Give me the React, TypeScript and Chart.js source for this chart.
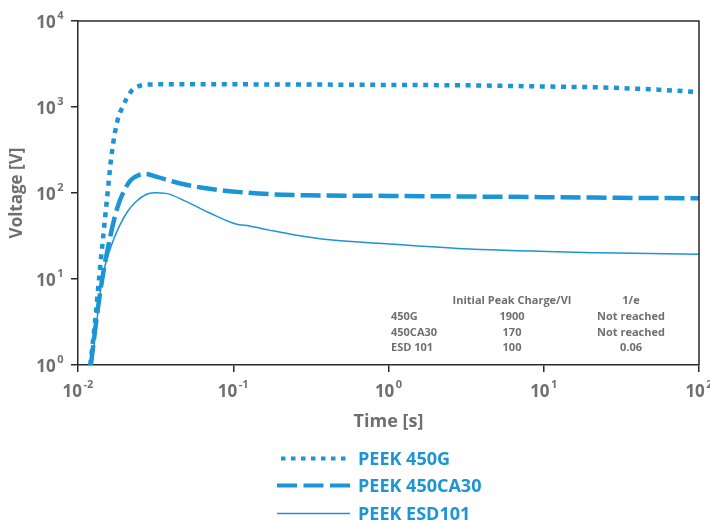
import React, { useEffect, useRef } from "react";
import { Chart, registerables } from "chart.js";

Chart.register(...registerables);

// ---- data ----
const seriesNames = ["PEEK 450G", "PEEK 450CA30", "PEEK ESD101"];

const t450G = [0.012, 0.0129, 0.0137, 0.0146, 0.0155, 0.0165, 0.018, 0.0194, 0.0219, 0.0254, 0.03, 0.05, 0.1, 0.3, 1, 3.3, 10, 22.9, 47.9, 100];
const v450G = [1, 3.3, 10.6, 34, 99, 290, 706, 1008, 1506, 1780, 1830, 1840, 1835, 1825, 1805, 1785, 1730, 1690, 1607, 1494];

const t450CA30 = [0.0121, 0.0134, 0.0144, 0.0163, 0.018, 0.0199, 0.0219, 0.0248, 0.0274, 0.0318, 0.0449, 0.0634, 0.0946, 0.171, 0.3, 1, 3.33, 10, 30, 100];
const v450CA30 = [1, 4.4, 10.6, 34, 69, 108, 142, 162, 166, 155, 130, 115, 105, 97, 94, 92.5, 91, 89.5, 88, 86.7];

const tESD101 = [0.0123, 0.0134, 0.0144, 0.0163, 0.0184, 0.0208, 0.0236, 0.0274, 0.031, 0.0368, 0.0495, 0.07, 0.104, 0.127, 0.171, 0.25, 0.417, 1.02, 3.33, 22.9, 100];
const vESD101 = [1, 4, 10.6, 23.7, 40.6, 60.6, 79, 96, 100.5, 99, 80, 59, 43.6, 41.3, 37, 32.5, 28.6, 25.5, 22.3, 20.2, 19.4];

const xTickExps = [-2, -1, 0, 1, 2];
const yTickExps = [0, 1, 2, 3, 4];

const xTitle = "Time [s]";
const yTitle = "Voltage [V]";

const tableHeader = ["", "Initial Peak Charge/VI", "1/e"];
const tableRowNames = ["450G", "450CA30", "ESD 101"];
const tablePeaks = ["1900", "170", "100"];
const tableDecay = ["Not reached", "Not reached", "0.06"];

// ---- styles ----
const BLUE = "#1b95d5";
const GRAY = "#6f6f73";
const AXIS = "#2a2a2a";
const FONT = "'Open Sans', 'DejaVu Sans', sans-serif";

const toPts = (ts: number[], vs: number[]) => ts.map((t, i) => ({ x: t, y: vs[i] }));

const decorPlugin = {
  id: "decor",
  afterDraw(chart: any) {
    const { ctx, chartArea: a, scales } = chart;
    const xs = scales.x;
    const ys = scales.y;
    ctx.save();
    // frame top & right
    ctx.strokeStyle = AXIS;
    ctx.lineWidth = 1.5;
    ctx.beginPath();
    ctx.moveTo(a.left, a.top);
    ctx.lineTo(a.right, a.top);
    ctx.lineTo(a.right, a.bottom);
    ctx.stroke();

    // tick labels
    ctx.fillStyle = GRAY;
    const big = `bold 17px ${FONT}`;
    const small = `bold 11px ${FONT}`;
    ctx.textBaseline = "alphabetic";
    xTickExps.forEach((e) => {
      const px = xs.getPixelForValue(Math.pow(10, e));
      const es = String(e);
      ctx.font = big;
      const w1 = ctx.measureText("10").width;
      ctx.font = small;
      const w2 = ctx.measureText(es).width;
      const total = w1 + 1.5 + w2;
      const x0 = px - total / 2;
      ctx.font = big;
      ctx.textAlign = "left";
      ctx.fillText("10", x0, a.bottom + 32);
      ctx.font = small;
      ctx.fillText(es, x0 + w1 + 1.5, a.bottom + 22.5);
    });
    yTickExps.forEach((e) => {
      const py = ys.getPixelForValue(Math.pow(10, e));
      const es = String(e);
      ctx.font = small;
      const w2 = ctx.measureText(es).width;
      const xr = a.left - 14.5;
      ctx.textAlign = "left";
      ctx.fillText(es, xr - w2, py - 2);
      ctx.font = big;
      ctx.textAlign = "right";
      ctx.fillText("10", xr - w2 - 1.5, py + 7);
    });

    // axis titles
    ctx.font = `bold 18px ${FONT}`;
    ctx.textAlign = "center";
    ctx.fillText(xTitle, (a.left + a.right) / 2, 426.5);
    ctx.save();
    ctx.translate(21.5, (a.top + a.bottom) / 2);
    ctx.rotate(-Math.PI / 2);
    ctx.font = `bold 17px ${FONT}`;
    ctx.fillText(yTitle, 0, 0);
    ctx.restore();

    // table
    ctx.font = `bold 11px ${FONT}`;
    ctx.fillStyle = GRAY;
    const col1 = 391;
    const col2 = 512;
    const col3 = 631;
    const rowY = [303.5, 319.5, 335.5, 351];
    ctx.textAlign = "center";
    ctx.fillText(tableHeader[1], col2, rowY[0]);
    ctx.fillText(tableHeader[2], col3, rowY[0]);
    tableRowNames.forEach((n, i) => {
      ctx.textAlign = "left";
      ctx.fillText(n, col1, rowY[i + 1]);
      ctx.textAlign = "center";
      ctx.fillText(tablePeaks[i], col2, rowY[i + 1]);
      ctx.fillText(tableDecay[i], col3, rowY[i + 1]);
    });

    // legend
    const legY = [458.5, 485.5, 513.5];
    chart.data.datasets.forEach((ds: any, i: number) => {
      const y = legY[i];
      ctx.save();
      ctx.strokeStyle = ds.borderColor;
      ctx.lineWidth = i === 2 ? 1.6 : 4.2;
      ctx.setLineDash(i === 0 ? [4.5, 5.5] : i === 1 ? [20, 6.5] : []);
      ctx.beginPath();
      ctx.moveTo(i === 0 ? 281 : 277, y);
      ctx.lineTo(350, y);
      ctx.stroke();
      ctx.restore();
      ctx.font = `bold 18px ${FONT}`;
      ctx.fillStyle = BLUE;
      ctx.textAlign = "left";
      ctx.fillText(ds.label, 358, y + 6.5);
    });
    ctx.restore();
  },
};

export default function App() {
  const ref = useRef<HTMLCanvasElement | null>(null);
  useEffect(() => {
    if (!ref.current) return;
    const chart = new Chart(ref.current, {
      type: "line",
      data: {
        datasets: [
          {
            label: seriesNames[0],
            data: toPts(t450G, v450G),
            borderColor: BLUE,
            borderWidth: 4.5,
            borderDash: [5, 5.6],
            pointRadius: 0,
            fill: false,
            cubicInterpolationMode: "monotone",
          },
          {
            label: seriesNames[1],
            data: toPts(t450CA30, v450CA30),
            borderColor: BLUE,
            borderWidth: 4.5,
            borderDash: [20, 6],
            pointRadius: 0,
            fill: false,
            cubicInterpolationMode: "monotone",
          },
          {
            label: seriesNames[2],
            data: toPts(tESD101, vESD101),
            borderColor: BLUE,
            borderWidth: 1.5,
            pointRadius: 0,
            fill: false,
            cubicInterpolationMode: "monotone",
          },
        ],
      },
      options: {
        responsive: false,
        animation: false,
        parsing: false,
        layout: { padding: { left: 0, right: 11, top: 21, bottom: 0 } },
        plugins: { legend: { display: false }, tooltip: { enabled: false } },
        scales: {
          x: {
            type: "logarithmic",
            min: Math.pow(10, xTickExps[0]),
            max: Math.pow(10, xTickExps[xTickExps.length - 1]),
            afterBuildTicks: (s: any) => {
              s.ticks = xTickExps.map((e) => ({ value: Math.pow(10, e) }));
            },
            afterFit: (s: any) => {
              s.height = 156;
            },
            ticks: { display: false },
            grid: { drawOnChartArea: false, drawTicks: true, tickLength: 7, color: AXIS, lineWidth: 1.5 },
            border: { display: true, color: AXIS, width: 1.5 },
          },
          y: {
            type: "logarithmic",
            min: Math.pow(10, yTickExps[0]),
            max: Math.pow(10, yTickExps[yTickExps.length - 1]),
            afterBuildTicks: (s: any) => {
              s.ticks = yTickExps.map((e) => ({ value: Math.pow(10, e) }));
            },
            afterFit: (s: any) => {
              s.width = 78;
            },
            ticks: { display: false },
            grid: { drawOnChartArea: false, drawTicks: true, tickLength: 7, color: AXIS, lineWidth: 1.5 },
            border: { display: true, color: AXIS, width: 1.5 },
          },
        },
      },
      plugins: [decorPlugin],
    } as any);
    return () => chart.destroy();
  }, []);
  return (
    <div style={{ position: "fixed", left: 0, top: 0, width: 710, height: 521, background: "#fff" }}>
      <canvas ref={ref} width={710} height={521} style={{ display: "block" }} />
    </div>
  );
}
